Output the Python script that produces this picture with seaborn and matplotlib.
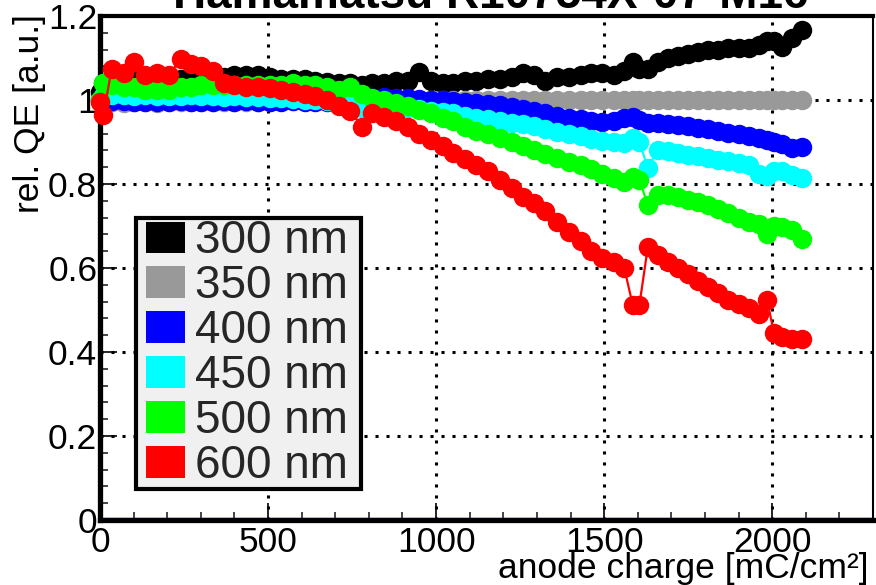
import matplotlib
matplotlib.use("Agg")
import matplotlib.pyplot as plt
import numpy as np
import pandas as pd
import seaborn as sns
from matplotlib.patches import Patch, Rectangle
from matplotlib.legend_handler import HandlerPatch
from matplotlib.ticker import MultipleLocator

sns.set_theme(style="white")
plt.rcParams['font.family'] = ['Liberation Sans', 'DejaVu Sans']

# ---------------- data ----------------
charge = [0, 10, 35, 70, 100, 135, 170, 205, 240, 270,
          300, 335, 370, 400, 435, 470, 505, 540, 575, 610,
          640, 675, 710, 745, 780, 810, 845, 880, 915, 950,
          985, 1020, 1050, 1085, 1120, 1155, 1190, 1225, 1260, 1290,
          1325, 1360, 1395, 1430, 1460, 1495, 1530, 1560, 1585, 1605,
          1630, 1660, 1690, 1720, 1750, 1780, 1810, 1840, 1870, 1900,
          1930, 1960, 1985, 2005, 2030, 2060, 2090]

qe_300 = [1.02, 1.04, 1.045, 1.05, 1.05, 1.05, 1.05, 1.05, 1.05, 1.05,
          1.055, 1.055, 1.055, 1.06, 1.06, 1.06, 1.055, 1.05, 1.05, 1.05,
          1.045, 1.043, 1.04, 1.04, 1.036, 1.04, 1.04, 1.045, 1.045, 1.067,
          1.045, 1.04, 1.04, 1.045, 1.045, 1.05, 1.05, 1.055, 1.064, 1.06,
          1.045, 1.055, 1.055, 1.06, 1.065, 1.065, 1.06, 1.07, 1.09, 1.075,
          1.075, 1.09, 1.1, 1.105, 1.11, 1.115, 1.12, 1.12, 1.125, 1.125,
          1.125, 1.13, 1.14, 1.14, 1.127, 1.148, 1.167]

qe_350 = [0.996, 0.995, 0.995, 0.994, 0.995, 0.995, 0.994, 0.995, 0.995, 0.995,
          0.995, 0.995, 0.996, 0.995, 0.995, 0.996, 0.996, 0.997, 0.997, 0.997,
          0.998, 0.998, 0.998, 0.999, 0.999, 1.0, 1.0, 1.0, 1.0, 1.0,
          1.0, 1.0, 1.0, 1.0, 1.0, 1.0, 1.0, 1.0, 1.0, 1.0,
          1.0, 1.0, 1.0, 1.0, 1.0, 1.0, 1.0, 1.0, 1.0, 1.0,
          1.0, 1.0, 1.0, 1.0, 1.0, 1.0, 1.0, 1.0, 1.0, 1.0,
          1.0, 1.0, 1.0, 1.0, 1.0, 1.0, 1.0]

qe_400 = [1.0, 0.998, 0.998, 0.997, 0.995, 0.995, 0.995, 0.995, 0.997, 0.995,
          0.996, 0.995, 0.997, 0.995, 0.997, 0.995, 0.996, 0.995, 0.997, 0.995,
          0.995, 0.995, 0.997, 1.0, 1.005, 1.005, 1.007, 1.005, 1.005, 1.003,
          1.0, 1.0, 0.998, 0.995, 0.993, 0.99, 0.987, 0.983, 0.978, 0.975,
          0.97, 0.963, 0.957, 0.955, 0.95, 0.948, 0.95, 0.957, 0.96, 0.952,
          0.945, 0.945, 0.942, 0.94, 0.937, 0.933, 0.93, 0.926, 0.922, 0.918,
          0.915, 0.91, 0.905, 0.9, 0.895, 0.885, 0.888]

qe_450 = [1.0, 1.01, 1.012, 1.012, 1.01, 1.012, 1.01, 1.01, 1.01, 1.012,
          1.01, 1.01, 1.008, 1.01, 1.007, 1.007, 1.005, 1.005, 1.003, 1.0,
          1.0, 0.998, 0.995, 0.99, 0.98, 0.99, 0.988, 0.985, 0.982, 0.978,
          0.975, 0.972, 0.968, 0.963, 0.958, 0.955, 0.95, 0.945, 0.942, 0.938,
          0.932, 0.925, 0.92, 0.915, 0.908, 0.903, 0.9, 0.897, 0.91, 0.9,
          0.838, 0.882, 0.878, 0.875, 0.87, 0.866, 0.862, 0.858, 0.855, 0.85,
          0.845, 0.825, 0.82, 0.83, 0.83, 0.822, 0.814]

qe_500 = [1.0, 1.04, 1.035, 1.03, 1.03, 1.025, 1.025, 1.025, 1.03, 1.03,
          1.035, 1.035, 1.035, 1.035, 1.035, 1.035, 1.035, 1.035, 1.04, 1.035,
          1.035, 1.03, 1.025, 1.03, 1.015, 1.005, 1.0, 0.993, 0.985, 0.977,
          0.968, 0.958, 0.95, 0.935, 0.927, 0.918, 0.91, 0.9, 0.89, 0.882,
          0.872, 0.862, 0.853, 0.845, 0.835, 0.825, 0.815, 0.805, 0.817, 0.81,
          0.75, 0.775, 0.775, 0.77, 0.762, 0.757, 0.75, 0.74, 0.73, 0.72,
          0.71, 0.705, 0.68, 0.70, 0.697, 0.69, 0.67]

qe_600 = [0.995, 0.965, 1.075, 1.065, 1.09, 1.06, 1.065, 1.06, 1.097, 1.085,
          1.08, 1.07, 1.04, 1.035, 1.03, 1.03, 1.028, 1.025, 1.02, 1.015,
          1.01, 1.0, 0.985, 0.975, 0.935, 0.97, 0.96, 0.95, 0.935, 0.92,
          0.905, 0.89, 0.875, 0.86, 0.845, 0.83, 0.81, 0.79, 0.77, 0.755,
          0.735, 0.71, 0.685, 0.665, 0.64, 0.625, 0.615, 0.6, 0.512, 0.512,
          0.65, 0.63, 0.615, 0.6, 0.585, 0.57, 0.555, 0.54, 0.525, 0.515,
          0.505, 0.49, 0.525, 0.445, 0.435, 0.43, 0.43]

wavelengths = ["300 nm", "350 nm", "400 nm", "450 nm", "500 nm", "600 nm"]
colors = ["#000000", "#999999", "#0000ff", "#00ffff", "#00ff00", "#ff0000"]
series = [qe_300, qe_350, qe_400, qe_450, qe_500, qe_600]

title = "Hamamatsu R10754X-07-M16"
xlabel = "anode charge [mC/cm²]"
ylabel = "rel. QE [a.u.]"
xticks = [0, 500, 1000, 1500, 2000]
yticks = [0, 0.2, 0.4, 0.6, 0.8, 1.0, 1.2]
ytick_labels = ["0", "0.2", "0.4", "0.6", "0.8", "1", "1.2"]

frames = []
for wl, vals in zip(wavelengths, series):
    frames.append(pd.DataFrame({"charge": charge, "qe": vals, "wavelength": wl}))
df = pd.concat(frames, ignore_index=True)

# ---------------- figure ----------------
W, H = 876, 585
fig = plt.figure(figsize=(W / 100, H / 100), dpi=100)
fig.patch.set_facecolor("white")
ax = fig.add_axes([100 / W, 65 / H, 773 / W, 504 / H])
ax.set_facecolor("white")

sns.lineplot(data=df, x="charge", y="qe", hue="wavelength", hue_order=wavelengths,
             palette=dict(zip(wavelengths, colors)), marker="o", markersize=14,
             markeredgewidth=0, linewidth=1.6, sort=False, estimator=None,
             legend=False, ax=ax)
for ln in ax.lines:
    ln.set_clip_on(False)
    ln.set_zorder(5)

ax.set_xlim(0, 2300)
ax.set_ylim(0, 1.2)
ax.set_xticks(xticks)
ax.set_xticklabels([str(t) for t in xticks])
ax.set_yticks(yticks)
ax.set_yticklabels(ytick_labels)
ax.xaxis.set_minor_locator(MultipleLocator(100))
ax.yaxis.set_minor_locator(MultipleLocator(0.04))

ax.tick_params(axis="both", which="major", direction="in", length=12, width=1.2,
               labelsize=25.5, colors="black", left=True, bottom=True)
ax.tick_params(axis="y", which="major", pad=2)
ax.tick_params(axis="x", which="major", pad=4)
ax.tick_params(axis="both", which="minor", direction="in", length=6, width=1.2,
               left=True, bottom=True)

ax.grid(False)
for v in xticks[1:]:
    ax.axvline(v, color="black", linestyle=(0, (1, 2.6)), linewidth=2.2, zorder=1)
for v in yticks[1:-1]:
    ax.axhline(v, color="black", linestyle=(0, (1, 2.6)), linewidth=2.2, zorder=1)
ax.axhline(0.004, color="#2020a0", linewidth=1.0, zorder=2)

for side in ["left", "bottom"]:
    ax.spines[side].set_linewidth(3.8)
    ax.spines[side].set_color("black")
ax.spines["top"].set_linewidth(3.0)
ax.spines["top"].set_color("black")
ax.spines["right"].set_linewidth(1.5)
ax.spines["right"].set_color("black")

ax.set_xlabel("")
ax.set_ylabel("")
fig.text(30 / W, 1 - 14 / H, ylabel, rotation=90, ha="center", va="top",
         fontsize=25.5, color="black")
fig.text(868 / W, 1 - 578 / H, xlabel, ha="right", va="baseline",
         fontsize=25.5, color="black")
fig.text(491 / W, 1 - 8 / H, title, ha="center", va="baseline",
         fontsize=33, fontweight="bold", color="black")


# legend: square swatch inset from the left frame edge
SWATCH_OFFSET = 6.0  # points


def make_swatch(legend, orig_handle, xdescent, ydescent, width, height, fontsize):
    return Rectangle((-xdescent + SWATCH_OFFSET, -ydescent),
                     width - SWATCH_OFFSET, height)


handles = [Patch(facecolor=c, edgecolor="none") for c in colors]
leg = ax.legend(handles, wavelengths, loc="upper left",
                bbox_to_anchor=(36 / 773, (302 - 270) / 504, 225 / 773, 270 / 504),
                mode="expand",
                fontsize=33, frameon=True, fancybox=False, framealpha=1,
                facecolor="#f0f0f0", edgecolor="black", borderpad=0.03,
                labelspacing=0.02, handlelength=1.03, handleheight=0.68,
                handletextpad=0.22, borderaxespad=0.0,
                handler_map={Patch: HandlerPatch(patch_func=make_swatch)})
leg.get_frame().set_linewidth(3.0)
leg.set_zorder(10)

fig.savefig("out.png", dpi=100)
